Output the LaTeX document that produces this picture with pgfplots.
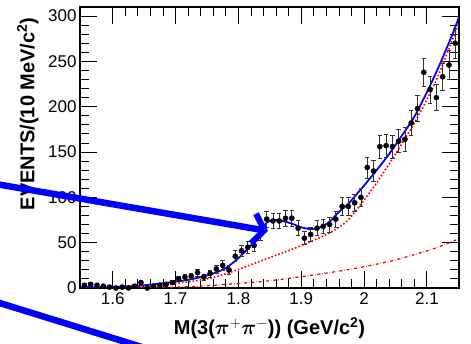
\documentclass[border=0pt]{standalone}
\usepackage{amsmath}
\usepackage{pgfplots}
\pgfplotsset{compat=1.18}
\usepackage{pgfplotstable}
\usepackage{fontspec}
\setmainfont{Liberation Sans}
\usetikzlibrary{arrows.meta}

\pgfplotstableread{
x y e
1.555 3 2
1.565 4 2
1.575 3 2
1.585 2 1.5
1.595 1 1
1.605 0 1
1.615 1 1
1.625 0 1
1.635 2 1.5
1.645 6 2.5
1.655 0 1
1.665 2 1.5
1.675 3 2
1.685 4 2
1.695 6 2.5
1.705 10 3
1.715 12 3.5
1.725 13 3.6
1.735 17 4
1.745 12 3.5
1.755 16 4
1.765 21 4.5
1.775 25 5
1.785 20 4.5
1.795 35 6
1.805 41 6.4
1.815 45 6.7
1.825 47 6.9
1.835 60 7.7
1.845 76 8.7
1.855 74 8.6
1.865 74 8.6
1.875 77 8.8
1.885 77 8.8
1.895 66 8.1
1.905 55 7.4
1.915 59 7.7
1.925 66 8.1
1.935 68 8.2
1.945 70 8.4
1.955 76 8.7
1.965 90 9.5
1.975 90 9.5
1.985 94 9.7
1.995 100 10
2.005 133 11.5
2.015 129 11.4
2.025 156 12.5
2.035 157 12.5
2.045 156 12.5
2.055 162 12.7
2.065 164 12.8
2.075 182 13.5
2.085 198 14
2.095 238 15.4
2.105 219 14.8
2.115 210 14.5
2.125 233 15.3
2.135 246 15.7
2.145 270 16.4
}\datatable

\pgfplotstableread{
x y
1.55 1
1.60 1
1.65 3
1.70 7
1.72 9
1.74 12
1.76 16
1.78 22
1.80 33
1.82 47
1.835 62
1.845 72
1.855 75
1.87 74
1.885 71
1.90 67
1.915 65
1.93 67
1.945 73
1.96 84
1.975 93
1.99 105
2.00 113
2.02 130
2.04 148
2.06 168
2.08 189
2.10 216
2.12 246
2.14 279
2.15 297
}\fittable

\pgfplotstableread{
x y
1.55 0
1.60 0.5
1.65 2
1.70 5
1.75 10
1.79 18
1.84 31
1.89 44
1.94 59
1.97 72
1.99 88
2.02 116
2.05 148
2.08 182
2.11 222
2.13 255
2.15 291
}\bgtable

\pgfplotstableread{
x y
1.55 0
1.60 0.3
1.65 0.6
1.70 1
1.75 2.5
1.80 5
1.85 8
1.90 12.5
1.95 17.5
2.00 23.5
2.05 31
2.10 41
2.125 47
2.15 54
}\smalltable

\begin{document}
\begin{tikzpicture}
\begin{axis}[
  scale only axis,
  width=379pt, height=281pt,
  xmin=1.548, xmax=2.151,
  ymin=0, ymax=310,
  xtick={1.6,1.7,1.8,1.9,2.0,2.1},
  ytick={0,50,100,150,200,250,300},
  minor x tick num=4,
  minor y tick num=4,
  tick align=inside,
  major tick length=17pt,
  minor tick length=9pt,
  xtick pos=both, ytick pos=both,
  xticklabel pos=bottom, yticklabel pos=left,
  axis line style={line width=1.3pt},
  every tick/.style={black, line width=0.9pt},
  /pgf/number format/assume math mode=true,
  tick label style={font=\fontsize{17}{17}\selectfont},
  xticklabel style={yshift=-1pt},
  yticklabel style={xshift=0pt},
  xlabel={\bfseries M(3($\boldsymbol{\pi}^{\mathbf{+}}\boldsymbol{\pi}^{\mathbf{-}}$)) (GeV/c$^{\mathbf{2}}$)},
  ylabel={\bfseries EVENTS/(10 MeV/c$^{\mathbf{2}}$)},
  label style={font=\fontsize{20}{20}\selectfont\bfseries},
  xlabel style={at={(axis description cs:0.5,0)}, anchor=north, yshift=-26pt},
  ylabel style={at={(axis description cs:0,1)}, anchor=south east, xshift=-7pt, yshift=38pt},
  clip=true,
]
\addplot[red, dotted, line width=1.6pt, smooth] table[x=x,y=y] {\bgtable};
\addplot[red!85!black, dash dot, line width=1.2pt, smooth] table[x=x,y=y] {\smalltable};
\addplot[blue, line width=1.8pt, smooth] table[x=x,y=y] {\fittable};
\addplot[black, only marks, mark=*, mark size=2.6pt,
  error bars/.cd, y dir=both, y explicit,
  error bar style={line width=0.7pt, black!80},
  error mark options={rotate=90, mark size=2.2pt, line width=0.7pt, black!80}]
  table[x=x,y=y,y error=e] {\datatable};
\coordinate (sw) at (rel axis cs:0,0);
\coordinate (ne) at (rel axis cs:1,1);
\end{axis}
\draw[blue, line width=6.5pt, -{Straight Barb[length=11pt,width=30pt,line width=6pt]}]
  ([shift={(-90pt,105pt)}]sw) -- ([shift={(188pt,57pt)}]sw);
\draw[blue, line width=6.5pt]
  ([shift={(-90pt,-12pt)}]sw) -- ([shift={(65pt,-60pt)}]sw);
\pgfresetboundingbox
\path[use as bounding box] ([shift={(-80pt,-56pt)}]sw) rectangle ([shift={(12pt,7pt)}]ne);
\end{tikzpicture}
\end{document}
